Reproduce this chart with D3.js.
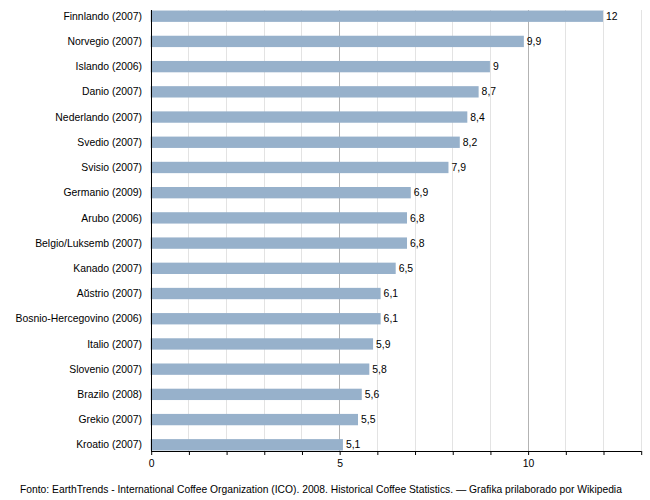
<!DOCTYPE html>
<html><head><meta charset="utf-8">
<script src="https://cdn.jsdelivr.net/npm/d3@7"></script>
<style>body{margin:0;background:#fff}svg{display:block}text{font-family:"Liberation Sans",Arial,sans-serif;fill:#000}</style>
</head><body>
<script>
const categories = ["Finnlando (2007)","Norvegio (2007)","Islando (2006)","Danio (2007)","Nederlando (2007)","Svedio (2007)","Svisio (2007)","Germanio (2009)","Arubo (2006)","Belgio/Luksemb (2007)","Kanado (2007)","Aŭstrio (2007)","Bosnio-Hercegovino (2006)","Italio (2007)","Slovenio (2007)","Brazilo (2008)","Grekio (2007)","Kroatio (2007)"];
const values = [12,9.9,9,8.7,8.4,8.2,7.9,6.9,6.8,6.8,6.5,6.1,6.1,5.9,5.8,5.6,5.5,5.1];
const xTicks = [0,1,2,3,4,5,6,7,8,9,10,11,12,13];
const xLabels = [0,5,10];
const source = "Fonto: EarthTrends - International Coffee Organization (ICO). 2008. Historical Coffee Statistics. — Grafika prilaborado por Wikipedia";

(function(){
const W=650,H=500,fs=10.4;
const svg=d3.select("body").append("svg").attr("width",W).attr("height",H);
const pl=150.7,pr=640.7,pt=10,pb=451;
const x=d3.scaleLinear().domain([0,13]).range([pl,pr]);
const y=d3.scaleBand().domain(categories).range([3.6,457.4]).paddingInner(0.55).paddingOuter(0.275);

svg.append("g").selectAll("line").data(xTicks.filter(d=>d>0)).join("line")
  .attr("x1",d=>Math.round(x(d))+0.5).attr("x2",d=>Math.round(x(d))+0.5)
  .attr("y1",pt).attr("y2",pb)
  .attr("stroke",d=>d%5===0?"#b3b3b3":"#e3e3e3").attr("stroke-width",1);

svg.append("g").selectAll("rect").data(values).join("rect")
  .attr("x",x(0)).attr("y",(d,i)=>y(categories[i]))
  .attr("width",d=>x(d)-x(0)).attr("height",y.bandwidth())
  .attr("fill","#97b1cb");

svg.append("g").selectAll("text").data(values).join("text")
  .attr("x",d=>x(d)+3).attr("y",(d,i)=>y(categories[i])+y.bandwidth()/2)
  .attr("dy","0.35em").attr("font-size",fs)
  .text(d=>String(d).replace(".",","));

svg.append("g").selectAll("text").data(categories).join("text")
  .attr("x",142).attr("y",d=>y(d)+y.bandwidth()/2).attr("dy","0.35em")
  .attr("text-anchor","end").attr("font-size",fs).text(d=>d);

svg.append("line").attr("x1",Math.round(pl)+0.5).attr("x2",Math.round(pl)+0.5).attr("y1",pt).attr("y2",pb+0.5).attr("stroke","#000");
const xAxis=d3.axisBottom(x).tickValues(xTicks).tickSize(4).tickFormat(d=>xLabels.includes(d)?d:"");
const ax=svg.append("g").attr("transform",`translate(0.5,${pb})`).call(xAxis);
ax.select(".domain").attr("d",`M${pl},0.5H${pr}`).attr("stroke","#000");
ax.selectAll(".tick line").attr("stroke","#000");
ax.selectAll(".tick text").attr("font-size",fs).attr("font-family","Liberation Sans,Arial,sans-serif").attr("fill","#000").attr("y",9);

svg.append("text").attr("x",20).attr("y",493).attr("font-size",10.3).text(source);
})();
</script>
</body></html>
